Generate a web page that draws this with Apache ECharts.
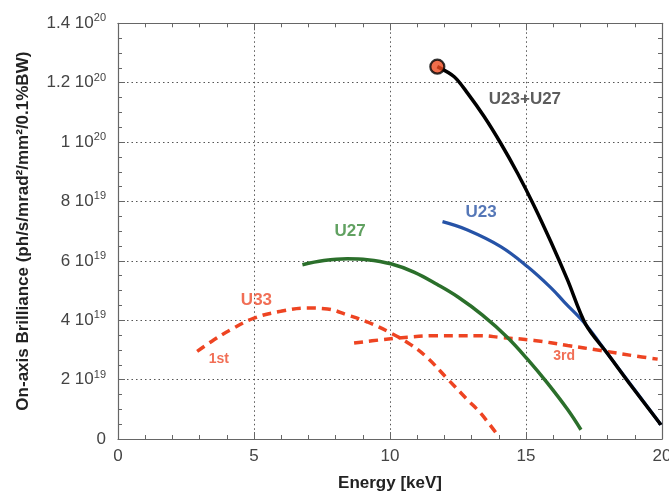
<!DOCTYPE html>
<html><head><meta charset="utf-8">
<script src="https://cdn.jsdelivr.net/npm/echarts@6/dist/echarts.min.js"></script>
<style>html,body{margin:0;padding:0;background:#fff}#c{width:669px;height:493px}</style>
</head><body><div id="c"></div>
<script>
// values in units of 1e19 ph/s/mrad^2/mm^2/0.1%BW ; x in keV
const u23u27 = [[11.74,12.54],[12.36,12.20],[12.85,11.65],[13.46,10.86],[14.07,9.96],[14.69,8.95],[15.30,7.85],[15.91,6.65],[16.53,5.35],[17.2,3.85],[18.0,2.87],[18.86,1.80],[19.96,0.48]];
const u23 = [[11.93,7.32],[12.85,7.04],[14.07,6.48],[15.05,5.81],[15.91,5.10],[16.40,4.62],[17.2,3.85],[18.0,2.87],[19.0,1.65],[19.96,0.48]];
const u27 = [[6.78,5.87],[7.57,6.01],[8.43,6.07],[9.16,6.04],[10.03,5.90],[10.88,5.62],[11.74,5.20],[12.5,4.78],[13.4,4.17],[14.32,3.42],[15.06,2.68],[15.79,1.88],[16.53,0.99],[17.02,0.31]];
const u33first = [[2.91,2.95],[3.53,3.34],[4.14,3.68],[5.0,4.07],[5.98,4.30],[6.96,4.41],[7.70,4.38],[8.43,4.18],[9.17,3.94],[10.03,3.57],[10.76,3.18],[11.38,2.73],[12.11,2.03],[12.85,1.32],[13.34,0.86],[13.95,0.14]];
const u33third = [[8.68,3.23],[9.66,3.34],[10.64,3.43],[11.62,3.48],[13.34,3.48],[14.07,3.42],[15.30,3.32],[16.53,3.15],[17.75,2.98],[18.98,2.80],[19.84,2.69]];
const peakPoint = [[11.74,12.54]];
const xTicks = ['0','5','10','15','20'];
const yTickMantissa = ['0','2','4','6','8','1','1.2','1.4'];
const yTickExp = ['','19','19','19','19','20','20','20'];
const annotations = [
  {x:14.96, y:11.45, text:'U23+U27', color:'#333333', size:17},
  {x:13.35, y:7.62, text:'U23', color:'#2a55a5', size:17},
  {x:8.53, y:7.01, text:'U27', color:'#3a8a3a', size:17},
  {x:5.09, y:4.67, text:'U33', color:'#ee4a2a', size:17},
  {x:3.71, y:2.70, text:'1st', color:'#ee4a2a', size:14},
  {x:16.4, y:2.78, text:'3rd', color:'#ee4a2a', size:14}
];

const FONT = 'Liberation Sans';
const axisCol = '#666';
const chart = echarts.init(document.getElementById('c'));
const baseX = {type:'value', min:0, max:20, interval:5,
  axisLine:{show:true, onZero:false, lineStyle:{color:axisCol, width:1.2}},
  axisTick:{show:true, inside:true, length:7, lineStyle:{color:axisCol}},
  minorTick:{show:true, splitNumber:5, length:4, lineStyle:{color:axisCol}}};
const baseY = {type:'value', min:0, max:14, interval:2,
  axisLine:{show:true, onZero:false, lineStyle:{color:axisCol, width:1.2}},
  axisTick:{show:true, inside:true, length:7, lineStyle:{color:axisCol}},
  minorTick:{show:true, splitNumber:4, length:4, lineStyle:{color:axisCol}}};
const lineBase = {type:'line', showSymbol:false, smooth:0.4, xAxisIndex:0, yAxisIndex:0, silent:true};
chart.setOption({
  animation:false,
  grid:{left:118, right:7, top:23.3, bottom:54, containLabel:false, outerBoundsMode:'none'},
  xAxis:[
    Object.assign({}, baseX, {position:'bottom', name:'Energy [keV]', nameLocation:'middle', nameGap:36,
      nameTextStyle:{fontFamily:FONT, fontWeight:'bold', fontSize:17, color:'#222'},
      axisLabel:{show:true, margin:9, fontFamily:FONT, fontSize:17, color:'#444', formatter:(v,i)=>xTicks[Math.round(v/5)]},
      splitLine:{show:true, lineStyle:{color:'#555', type:[1.5,3], width:1}}}),
    Object.assign({}, baseX, {position:'top', axisLabel:{show:false}, splitLine:{show:false}})
  ],
  yAxis:[
    Object.assign({}, baseY, {position:'left', name:'On-axis Brilliance (ph/s/mrad²/mm²/0.1%BW)', nameLocation:'middle', nameGap:86,
      nameTextStyle:{fontFamily:FONT, fontWeight:'bold', fontSize:17, color:'#222'},
      axisLabel:{show:true, margin:12, fontFamily:FONT, fontSize:17, color:'#444',
        formatter:(v)=>{const i=Math.round(v/2); return yTickExp[i] ? '{a|'+yTickMantissa[i]+' 10}{b|'+yTickExp[i]+'}' : '{a|'+yTickMantissa[i]+'}';},
        rich:{a:{fontFamily:FONT, fontSize:17, color:'#444'}, b:{fontFamily:FONT, fontSize:11, color:'#444', padding:[0,0,10,0]}}},
      splitLine:{show:true, lineStyle:{color:'#555', type:[1.5,3], width:1}}}),
    Object.assign({}, baseY, {position:'right', axisLabel:{show:false}, splitLine:{show:false}})
  ],
  series:[
    Object.assign({}, lineBase, {name:'U33 1st', data:u33first, lineStyle:{color:'#ee4422', width:3.5, type:[9,6]}}),
    Object.assign({}, lineBase, {name:'U33 3rd', data:u33third, lineStyle:{color:'#ee4422', width:3.5, type:[9,6]}}),
    Object.assign({}, lineBase, {name:'U27', data:u27, lineStyle:{color:'#2b6f2b', width:3.5}}),
    Object.assign({}, lineBase, {name:'U23', data:u23, lineStyle:{color:'#2653a7', width:3.2}}),
    Object.assign({}, lineBase, {name:'U23+U27', data:u23u27, smooth:0.3, lineStyle:{color:'#000', width:3.5}}),
    {type:'scatter', data:peakPoint, symbol:'circle', symbolSize:14, itemStyle:{color:'#ee4a1e', borderColor:'#000', borderWidth:2.2}, silent:true, z:5},
    {type:'scatter', silent:true, symbolSize:0, z:6,
      data:annotations.map(a=>({value:[a.x,a.y], label:{show:true, position:'inside', formatter:a.text, color:a.color, fontSize:a.size, fontWeight:'bold', fontFamily:FONT}}))}
  ]
});
</script></body></html>
